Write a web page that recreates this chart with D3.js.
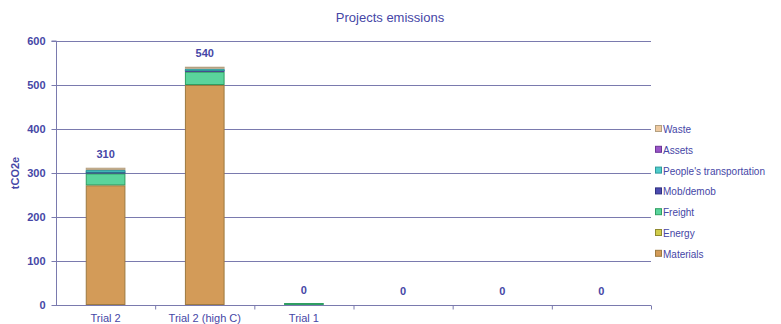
<!DOCTYPE html>
<html>
<head>
<meta charset="utf-8">
<script src="https://cdn.jsdelivr.net/npm/d3@7"></script>
<style>
  html, body { margin: 0; padding: 0; background: #fff; }
  svg { display: block; font-family: "Liberation Sans", Arial, sans-serif; }
</style>
</head>
<body>
<svg id="chart" width="781" height="324"></svg>
<script>
// Project categories along the x axis
const categories = ["Trial 2", "Trial 2 (high C)", "Trial 1", "", "", ""];

// Emission sources, stacked from the bottom up
const sources = ["Materials", "Energy", "Freight", "Mob/demob", "People's transportation", "Assets", "Waste"];

// tCO2e per source, one value per category
const materials = [272, 500, 0, 0, 0, 0];
const energy    = [0, 0, 0, 0, 0, 0];
const freight   = [27, 30, 3, 0, 0, 0];
const mobDemob  = [2, 2, 0, 0, 0, 0];
const people    = [6, 5, 0, 0, 0, 0];
const assets    = [0, 0, 0, 0, 0, 0];
const waste     = [5, 4, 0, 0, 0, 0];

const yTicks = [0, 100, 200, 300, 400, 500, 600];

const fills   = ["#D39B58", "#D0CC4A", "#5AD49C", "#4B4BB0", "#4FCBCB", "#9A55C8", "#EEC9A0"];
const strokes = ["#9C7A40", "#8F8A30", "#2F9E62", "#303080", "#2E9A9A", "#6C3596", "#B4A080"];

const seriesValues = [materials, energy, freight, mobDemob, people, assets, waste];
const rows = categories.map((c, i) => {
  const r = { key: i, category: c };
  sources.forEach((s, j) => r[s] = seriesValues[j][i]);
  return r;
});

const svg = d3.select("#chart");
const margin = { left: 56, right: 130, top: 41, bottom: 19 };
const W = 781, H = 324;
const plotRight = W - margin.right;
const plotBottom = H - margin.bottom;

const axisColor = "#7A7AAE";
const textColor = "#4646A6";

const x = d3.scaleBand().domain(rows.map(r => r.key)).range([margin.left, plotRight]).paddingInner(0).paddingOuter(0);
const y = d3.scaleLinear().domain([0, 600]).range([plotBottom, margin.top]);

// Horizontal gridlines
svg.append("g").selectAll("line").data(yTicks.filter(t => t > 0)).join("line")
  .attr("x1", margin.left).attr("x2", plotRight)
  .attr("y1", d => y(d) + 0.5).attr("y2", d => y(d) + 0.5)
  .attr("stroke", axisColor).attr("stroke-width", 1);

// Stacked bars
const stack = d3.stack().keys(sources)(rows);
const barW = x.bandwidth() * 0.4;
const layers = svg.append("g").selectAll("g").data(stack).join("g")
  .attr("fill", (d, i) => fills[i])
  .attr("stroke", (d, i) => strokes[i]);
layers.selectAll("rect").data(d => d.filter(s => s[1] - s[0] > 0)).join("rect")
  .attr("x", d => x(d.data.key) + (x.bandwidth() - barW) / 2 + 0.5)
  .attr("width", barW - 1)
  .attr("y", d => Math.min(y(d[1]) + 0.5, y(d[0]) - 1.5))
  .attr("height", d => Math.max(1, y(d[0]) - y(d[1]) - 1))
  .attr("stroke-width", 1);

// Y axis
const yAxis = svg.append("g").attr("transform", `translate(${margin.left + 0.5},0)`)
  .call(d3.axisLeft(y).tickValues(yTicks).tickSize(5).tickPadding(6).tickFormat(d3.format("d")));
yAxis.select(".domain").attr("stroke", axisColor).attr("d", `M-5,${y(600)}H0V${plotBottom + 0.5}`);
yAxis.selectAll(".tick line").attr("stroke", axisColor);
yAxis.selectAll(".tick text").attr("fill", textColor).attr("font-size", 11).attr("font-weight", "bold")
  .attr("font-family", "Liberation Sans, Arial, sans-serif");

// X axis
const xAxis = svg.append("g").attr("transform", `translate(0,${plotBottom + 0.5})`)
  .call(d3.axisBottom(x).tickSize(0).tickPadding(9).tickFormat(k => categories[k]));
xAxis.select(".domain").attr("stroke", axisColor).attr("d", `M${margin.left},0H${plotRight}`);
xAxis.selectAll(".tick text").attr("fill", textColor).attr("font-size", 11)
  .attr("font-family", "Liberation Sans, Arial, sans-serif");
// Category separators below the axis
xAxis.append("g").selectAll("line").data(rows.slice(1).map(r => r.key).concat(["end"])).join("line")
  .attr("x1", k => (k === "end" ? plotRight : x(k)) + 0.5)
  .attr("x2", k => (k === "end" ? plotRight : x(k)) + 0.5)
  .attr("y1", 0).attr("y2", 4)
  .attr("stroke", axisColor);

// Total labels above each bar, rounded to the nearest 10
const totals = rows.map(r => sources.reduce((a, s) => a + r[s], 0));
svg.append("g").selectAll("text").data(rows).join("text")
  .attr("x", r => x(r.key) + x.bandwidth() / 2)
  .attr("y", (r, i) => y(totals[i]) - 10)
  .attr("text-anchor", "middle")
  .attr("fill", textColor).attr("font-size", 11).attr("font-weight", "bold")
  .text((r, i) => Math.round(totals[i] / 10) * 10);

// Y axis title
svg.append("text")
  .attr("transform", `translate(19,${(margin.top + plotBottom) / 2}) rotate(-90)`)
  .attr("text-anchor", "middle")
  .attr("fill", textColor).attr("font-size", 11).attr("font-weight", "bold")
  .text("tCO2e");

// Chart title
svg.append("text")
  .attr("x", 390).attr("y", 22)
  .attr("text-anchor", "middle")
  .attr("fill", textColor).attr("font-size", 13)
  .text("Projects emissions");

// Legend, listed top-down in reverse stacking order
const legendItems = sources.map((s, i) => ({ s, i })).reverse();
const lg = svg.append("g").selectAll("g").data(legendItems).join("g")
  .attr("transform", (d, k) => `translate(655,${130 + k * 20.8})`);
lg.append("rect").attr("x", 0.5).attr("y", -4.5).attr("width", 6).attr("height", 6)
  .attr("fill", d => fills[d.i]).attr("stroke", d => strokes[d.i]).attr("stroke-width", 1);
lg.append("text").attr("x", 8).attr("y", 3)
  .attr("fill", textColor).attr("font-size", 10)
  .text(d => d.s);
</script>
</body>
</html>
